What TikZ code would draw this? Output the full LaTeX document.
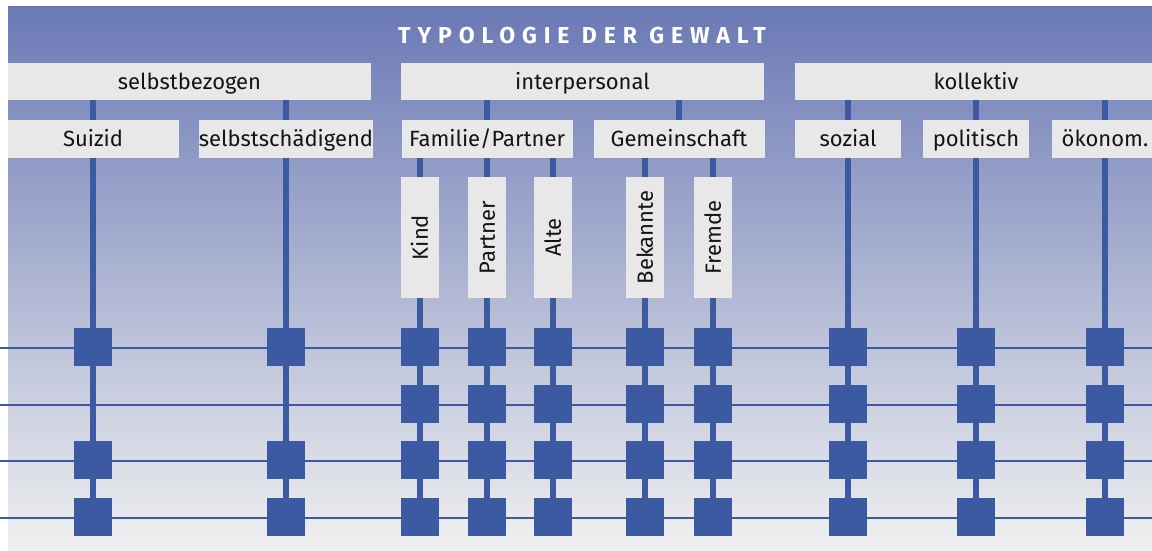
\documentclass[tikz,border=0pt]{standalone}
\usepackage{fontspec}
\setmainfont{Fira Sans}
\newfontfamily\titlefont[LetterSpace=30]{Fira Sans}
\pgfdeclarelayer{bg}
\pgfdeclarelayer{lines}
\pgfsetlayers{bg,lines,main}
\definecolor{bluebar}{RGB}{60,90,162}
\definecolor{boxgray}{RGB}{232,232,232}
\definecolor{bgtop}{RGB}{106,121,181}
\definecolor{bgbot}{RGB}{240,240,240}
\definecolor{txt}{RGB}{20,20,20}
\tikzset{
 cat/.style={fill=boxgray, inner sep=0pt, text height=15.5pt, text depth=0pt, font=\fontsize{22}{22}\selectfont, text=txt},
 lvone/.style={cat, minimum width=363pt, minimum height=37pt},
 lvtwo/.style={cat, minimum height=38pt},
 lvthree/.style={cat, rotate=90, minimum width=121pt, minimum height=38pt},
 sq/.style={fill=bluebar, minimum size=38pt, inner sep=0pt},
 vbar/.style={draw=bluebar, line width=6pt},
 hbar/.style={draw=bluebar, line width=2pt},
}
\begin{document}
\begin{tikzpicture}[x=1pt,y=-1pt]
\useasboundingbox (0,0) rectangle (1152,550);
\begin{pgfonlayer}{bg}
\shade[top color=bgtop, bottom color=bgbot] (8,6) rectangle (1152,550);
\end{pgfonlayer}
% title
\node[anchor=west, text=white, inner sep=0pt, text height=16.5pt, text depth=0pt,
      font=\titlefont\bfseries\fontsize{23}{23}\selectfont] (title) at (398,35) {TYPOLOGIE DER GEWALT};
% level 1
\node[lvone] (selbst) at (189.5,81.5) {selbstbezogen};
\node[lvone] (inter) at (582.5,81.5) {interpersonal};
\node[lvone] (koll) at (976,81.5) {kollektiv};
% level 2
\node[lvtwo, minimum width=171pt] (suizid) at (93,139) {Suizid};
\node[lvtwo, minimum width=171pt] (selbstsch) at (286,139) {selbstschädigend};
\node[lvtwo, minimum width=171pt] (familie) at (487,139) {Familie/Partner};
\node[lvtwo, minimum width=171pt] (gemein) at (679,139) {Gemeinschaft};
\node[lvtwo, minimum width=106pt] (sozial) at (848,139) {sozial};
\node[lvtwo, minimum width=106pt] (politisch) at (976,139) {politisch};
\node[lvtwo, minimum width=106pt] (oekonom) at (1105,139) {ökonom.};
% level 3
\node[lvthree] (kind) at (420,237.5) {Kind};
\node[lvthree] (partner) at (487,237.5) {Partner};
\node[lvthree] (alte) at (553,237.5) {Alte};
\node[lvthree] (bekannte) at (645,237.5) {Bekannte};
\node[lvthree] (fremde) at (713,237.5) {Fremde};
% squares
\foreach \n/\x in {kind/420,partner/487,alte/553,bekannte/645,fremde/713,sozial/848,politisch/976,oekonom/1105}{
  \foreach \r/\y in {1/347,2/404,3/460,4/517}{
    \node[sq] (q-\n-\r) at (\x,\y) {};
  }
}
\foreach \n/\x in {suizid/93,selbstsch/286}{
  \foreach \r/\y in {1/347,3/460,4/517}{
    \node[sq] (q-\n-\r) at (\x,\y) {};
  }
}
% horizontal lines
\foreach \r/\y in {1/347.5,2/405,3/461,4/518}{
  \coordinate (hl\r) at (0,\y);
  \coordinate (hr\r) at (1152,\y);
  \begin{pgfonlayer}{lines}
  \draw[hbar] (hl\r) -- (hr\r);
  \end{pgfonlayer}
}
% vertical connectors
\begin{pgfonlayer}{lines}
\draw[vbar] (suizid.north |- selbst.south) -- (q-suizid-4.center);
\draw[vbar] (selbstsch.north |- selbst.south) -- (q-selbstsch-4.center);
\draw[vbar] (familie.north |- inter.south) -- (familie.south);
\draw[vbar] (gemein.north |- inter.south) -- (gemein.south);
\draw[vbar] (sozial.north |- koll.south) -- (q-sozial-4.center);
\draw[vbar] (politisch.north |- koll.south) -- (q-politisch-4.center);
\draw[vbar] (oekonom.north |- koll.south) -- (q-oekonom-4.center);
\draw[vbar] (q-kind-1 |- familie.south) -- (q-kind-4.center);
\draw[vbar] (q-partner-1 |- familie.south) -- (q-partner-4.center);
\draw[vbar] (q-alte-1 |- familie.south) -- (q-alte-4.center);
\draw[vbar] (q-bekannte-1 |- gemein.south) -- (q-bekannte-4.center);
\draw[vbar] (q-fremde-1 |- gemein.south) -- (q-fremde-4.center);
\end{pgfonlayer}
\end{tikzpicture}
\end{document}
